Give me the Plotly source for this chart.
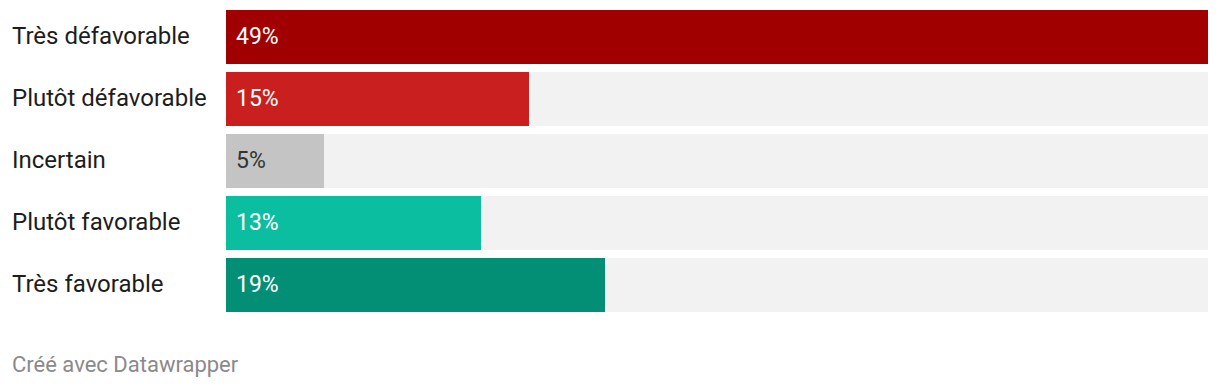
import plotly.graph_objects as go

categories = ["Très défavorable", "Plutôt défavorable", "Incertain", "Plutôt favorable", "Très favorable"]
values = [49.0, 15.1, 4.9, 12.7, 18.9]
value_labels = ["49%", "15%", "5%", "13%", "19%"]
colors = ["#a10000", "#c91f1f", "#c4c4c4", "#0bbea0", "#028f76"]
label_colors = ["#ffffff", "#ffffff", "#333333", "#ffffff", "#ffffff"]
range_max = 49.0

W, H = 1220, 388
ml, mr, mt, mb = 226, 12, 6, 72
plot_w = W - ml - mr
plot_h = H - mt - mb

fig = go.Figure()
fig.add_trace(go.Bar(
    y=categories, x=[range_max] * len(categories), orientation="h",
    marker=dict(color="#f2f2f2", line=dict(width=0)), width=54 / 62,
    hoverinfo="skip", showlegend=False,
))
fig.add_trace(go.Bar(
    y=categories, x=values, orientation="h",
    marker=dict(color=colors, line=dict(width=0)), width=54 / 62,
    hoverinfo="skip", showlegend=False,
))

font = "Roboto, 'Noto Sans', sans-serif"
annotations = []
for cat, lab, lc in zip(categories, value_labels, label_colors):
    annotations.append(dict(
        x=0, y=cat, xref="x", yref="y", text=lab, showarrow=False,
        xanchor="left", yanchor="middle", xshift=8, yshift=1,
        font=dict(family=font, size=23, color=lc),
    ))
    annotations.append(dict(
        x=(12 - ml) / plot_w, y=cat, xref="paper", yref="y", text=cat, showarrow=False,
        xanchor="left", yanchor="middle", xshift=-2, yshift=1,
        font=dict(family=font, size=24, color="#1d1d1d"),
    ))
annotations.append(dict(
    x=(12 - ml) / plot_w, y=(H - mb - 364) / plot_h, xref="paper", yref="paper",
    text="Créé avec Datawrapper", showarrow=False, xanchor="left", yanchor="middle",
    xshift=-2, font=dict(family=font, size=22, color="#8a8a8a"),
))

fig.update_layout(
    width=W, height=H, margin=dict(l=ml, r=mr, t=mt, b=mb),
    barmode="overlay", bargap=0,
    plot_bgcolor="white", paper_bgcolor="white",
    xaxis=dict(range=[0, range_max], visible=False, fixedrange=True),
    yaxis=dict(autorange="reversed", visible=False, fixedrange=True),
    annotations=annotations,
)
fig.write_html("out.html", config={"displayModeBar": False})
